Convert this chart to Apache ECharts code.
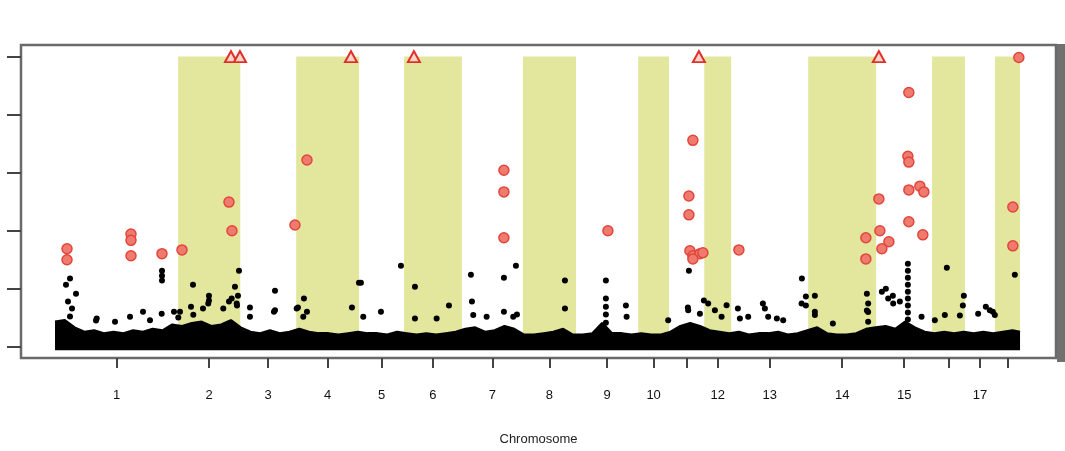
<!DOCTYPE html>
<html>
<head>
<meta charset="utf-8">
<script src="https://cdn.jsdelivr.net/npm/echarts@6/dist/echarts.min.js"></script>
<style>
html,body{margin:0;padding:0;background:#fff;}
#chart{width:1065px;height:451px;}
</style>
</head>
<body>
<div id="chart"></div>
<script>
// ---- data ----
const chrLengths = [315,159,143,161,115,148,156,136,159,79,90,69,197,174,143,84,77,64];
const chrLabels = ['1','2','3','4','5','6','7','8','9','10','','12','13','14','15','','17',''];
const bandChrs = [2,4,6,8,10,12,14,16,18];
const yTicks = [0,2,4,6,8,10];
const capValue = 10;
// dense background of non-significant SNPs: upper envelope per 25 Mb bin (genome position = bin*25)
const baselineBinMb = 25;
const baselineHeights = [0.85,0.9,0.65,0.5,0.55,0.45,0.5,0.45,0.55,0.5,0.6,0.55,0.75,0.7,0.8,0.85,0.7,0.75,0.9,0.65,
 0.5,0.45,0.55,0.45,0.5,0.6,0.5,0.45,0.45,0.4,0.45,0.5,0.45,0.45,0.4,0.5,0.45,0.4,0.45,0.4,
 0.45,0.5,0.6,0.65,0.5,0.55,0.7,0.6,0.4,0.4,0.45,0.5,0.6,0.4,0.4,0.45,0.8,0.45,0.45,0.4,
 0.45,0.4,0.4,0.5,0.7,0.8,0.7,0.55,0.5,0.45,0.5,0.4,0.45,0.45,0.5,0.4,0.45,0.55,0.65,0.45,
 0.4,0.4,0.45,0.6,0.65,0.7,0.6,0.85,0.65,0.5,0.45,0.5,0.45,0.5,0.45,0.5,0.45,0.5,0.55];
const baselineLast = 0.5;
// scattered non-significant SNPs [genome position Mb, -log10 p]
const blackPoints = [
 [38.4,2.34],[28.1,2.13],[53.7,1.82],[33.2,1.55],[43.5,1.31],[38.4,1.03],[225.1,1.20],[104.9,0.89],
 [273.7,2.61],[273.7,2.44],[273.7,2.27],[304.4,1.20],[319.8,1.20],
 [353,2.13],[347.9,1.37],[393.9,1.75],[393.9,1.58],[378.6,1.31],[470.7,2.61],[460.4,2.06],[468.1,1.75],
 [445.1,1.55],[465.6,1.41],[498.8,1.34],
 [562.8,1.92],[560.2,1.20],
 [636.9,1.65],[621.6,1.34],[644.6,1.20],[777.6,2.20],[759.7,1.34],
 [885.1,2.78],[782.7,2.20],[833.9,1.20],
 [920.9,2.06],[1007.9,1.41],
 [1064.1,2.47],[1066.7,1.55],[1179.2,2.78],[1148.5,2.37],[1148.5,1.20],[1181.8,1.10],
 [1304.6,2.27],[1304.6,1.31],
 [1409.4,2.27],[1409.4,1.65],[1409.4,1.37],[1409.4,1.10],[1409.4,0.82],[1460.6,1.41],
 [1621.8,2.61],[1619.2,1.34],[1660.1,1.58],[1649.9,1.13],
 [1747.1,1.31],[1811.1,1.48],[1752.2,0.96],[1846.9,0.96],
 [1910.8,2.34],[1921.1,1.72],[1944.1,1.75],[1921.1,1.41],[1944.1,1.20],[1990.1,0.79],
 [2077.1,1.82],[2077.1,1.24],[2115.5,1.89],[2125.7,1.99],[2143.6,1.75],[2161.5,1.55],
 [2182,2.85],[2182,2.61],[2182,2.37],[2182,2.13],[2182,1.89],[2182,1.65],[2182,1.41],[2182,1.17],[2182,0.93],
 [2281.7,2.71],[2325.2,1.75],[2322.7,1.41],[2315,1.07],
 [2381.5,1.37],[2399.4,1.20],
 [2455.7,2.47],
 [106.7,0.96],[243.0,0.9],[191.9,1.02],[153.5,0.85],[272.9,1.13],[315.4,1.0],[353.8,1.09],[392.1,1.48],
 [430.5,1.31],[452.0,1.65],[464.8,1.48],[498.8,1.02],[562.8,1.25],[618.3,1.31],[635.2,1.02],[920.9,0.96],
 [976.4,0.96],[1070.0,1.08],[1104.3,1.02],[1172.3,1.02],[788.6,1.02],[1462.4,1.02],[1568.8,0.9],[1620.0,1.25],
 [1671.1,1.48],[1688.3,1.25],[1705.4,1.02],[1718.2,1.42],[1773.5,1.02],[1816.2,1.31],[1824.6,1.02],[1863.0,0.9],
 [1910.1,1.48],[1944.1,1.08],[2080.4,1.48],[2080.4,1.19],[2080.4,0.85],[2131.6,1.65],[2144.4,1.48],[2217.0,1.02],
 [2251.0,0.9],[2276.6,1.08],[2361.8,1.13],[2391.7,1.25],[2404.5,1.08]
];
// significant SNPs
const redPoints = [
 [30.7,3.37],[30.7,2.99],[194.4,3.88],[194.4,3.66],[194.4,3.13],[273.7,3.20],[324.9,3.33],
 [445.1,4.98],[452.8,3.99],[613.9,4.19],[644.6,6.43],
 [1148.5,6.08],[1148.5,5.33],[1148.5,3.75],[1414.6,3.99],
 [1632,7.11],[1621.8,5.19],[1621.8,4.54],[1624.3,3.30],[1632,3.13],[1649.9,3.20],[1632,3.02],[1657.6,3.23],
 [1749.7,3.33],
 [2184.5,8.76],[2182,6.56],[2184.5,6.36],[2184.5,5.40],[2212.7,5.53],[2222.9,5.33],[2107.8,5.09],
 [2184.5,4.30],[2220.3,3.85],[2110.4,3.99],[2074.5,3.75],[2133.4,3.61],[2115.5,3.37],[2074.5,3.02],
 [2465.9,9.97],[2450.6,4.81],[2450.6,3.47]
];
// SNPs beyond the axis cap (drawn as triangles at the cap)
const cappedPositions = [450.2,473.2,757.2,918.3,1647.4,2107.8];

// ---- derived ----
const chrStarts = [];
let acc = 0;
chrLengths.forEach(l => { chrStarts.push(acc); acc += l; });
const genomeEnd = acc;
const chrCenters = chrLengths.map((l,i) => chrStarts[i] + l/2);
const baselineData = baselineHeights.map((h,i) => [i*baselineBinMb, h]);
baselineData.push([genomeEnd, baselineLast]);
const bandAreas = bandChrs.map(c => [
  {xAxis: chrStarts[c-1], yAxis: 0},
  {xAxis: chrStarts[c-1] + chrLengths[c-1], yAxis: capValue}
]);
const cappedData = cappedPositions.map(p => [p, capValue]);

const chart = echarts.init(document.getElementById('chart'));
chart.setOption({
  animation: false,
  textStyle: {fontFamily: 'Liberation Sans, Arial, sans-serif'},
  grid: {left: 21, right: 9, top: 45, bottom: 91, show: true, borderColor: '#6a6a6a', borderWidth: 2.5, backgroundColor: 'transparent'},
  xAxis: {
    type: 'value', min: -87, max: 2561,
    splitLine: {show: false},
    axisLine: {show: false, onZero: false},
    axisTick: {show: true, customValues: chrCenters, length: 10, lineStyle: {color: '#444', width: 2}},
    axisLabel: {
      customValues: chrCenters, margin: 31, fontSize: 13, color: '#111',
      formatter: v => {
        const i = chrCenters.findIndex(c => Math.abs(c - v) < 0.01);
        return i >= 0 ? chrLabels[i] : '';
      }
    },
    name: 'Chromosome', nameLocation: 'middle', nameGap: 75,
    nameTextStyle: {fontSize: 13, color: '#222'}
  },
  yAxis: {
    type: 'value', min: -0.4, max: 10.4,
    splitLine: {show: false},
    axisLine: {show: false, onZero: false},
    axisTick: {show: true, customValues: yTicks, length: 14, lineStyle: {color: '#444', width: 2}},
    axisLabel: {show: false}
  },
  series: [
    {
      type: 'line', data: baselineData, symbol: 'none', z: 2,
      lineStyle: {color: '#000', width: 2.5},
      areaStyle: {color: '#000', opacity: 1, origin: -0.13},
      markArea: {silent: true, itemStyle: {color: '#e3e79e'}, data: bandAreas}
    },
    {
      type: 'scatter', data: blackPoints, symbolSize: 6, z: 3,
      itemStyle: {color: '#000', opacity: 1}
    },
    {
      type: 'scatter', data: redPoints, symbolSize: 10, z: 4,
      itemStyle: {color: '#ef7b70', borderColor: '#e2463a', borderWidth: 1.5, opacity: 1}
    },
    {
      type: 'scatter', data: cappedData, symbol: 'triangle', symbolSize: [12, 11], z: 5,
      itemStyle: {color: '#fcd6c8', borderColor: '#e0302a', borderWidth: 2, opacity: 1}
    }
  ],
  graphic: [{
    type: 'rect', shape: {x: 1057, y: 44, width: 8, height: 318},
    style: {fill: '#707070'}, silent: true
  }]
});
</script>
</body>
</html>
